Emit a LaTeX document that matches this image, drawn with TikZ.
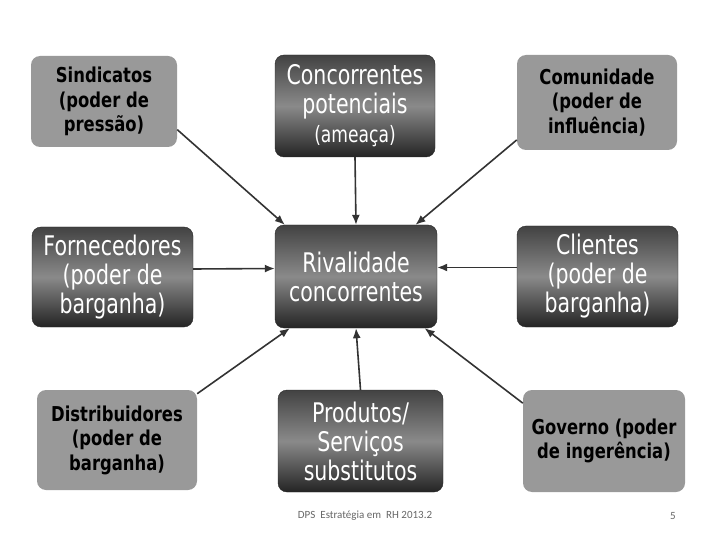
\documentclass[tikz,border=0pt]{standalone}
\usepackage{fontspec}
\setmainfont{DejaVu Sans}
\newfontfamily\boxfont[FakeStretch=0.76]{DejaVu Sans}
\newfontfamily\lightfont[FakeStretch=0.8]{DejaVu Sans Bold}
\newfontfamily\footfont{Carlito}
\usetikzlibrary{arrows.meta}

\begin{document}
\begin{tikzpicture}[
    x=1pt, y=-1pt,
    light/.style={rounded corners=9pt, fill=black!40, text=black, align=center,
        minimum width=160pt, minimum height=100pt, inner sep=0pt,
        font=\lightfont\fontsize{20.5}{24.5}\selectfont},
    dark/.style={rounded corners=9pt, draw=black!85, top color=black!74,
        bottom color=black!86, middle color=black!46, text=white, align=center,
        minimum width=160pt, minimum height=100pt, inner sep=0pt,
        font=\boxfont\fontsize{27}{29}\selectfont},
    force/.style={draw=black!80, line width=1.6pt,
        -{Latex[length=10pt, width=8pt]}},
    foot/.style={text=black!60, font=\footfont\fontsize{11}{13}\selectfont}
]
\useasboundingbox (0,0) rectangle (720,540);

% ---- top row ----
\node[light, minimum width=146pt, minimum height=91pt] (sind) at (104,101.5)
    {Sindicatos\\(poder de\\pressão)};
\node[dark, minimum height=102pt] (conc) at (355,106)
    {Concorrentes\\potenciais\\{\fontsize{22.5}{26}\selectfont(ameaça)}};
\node[light, minimum height=95pt] (comu) at (597,102.5)
    {Comunidade\\(poder de\\influência)};

% ---- middle row ----
\node[dark, minimum width=161pt] (forn) at (112.5,277)
    {Fornecedores\\(poder de\\barganha)};
\node[dark, minimum width=162pt, minimum height=103pt] (riva) at (356,276.5)
    {Rivalidade\\concorrentes};
\node[dark, minimum width=161pt, minimum height=101pt] (clie) at (597.5,276.5)
    {Clientes\\(poder de\\barganha)};

% ---- bottom row ----
\node[light] (dist) at (117,440)
    {Distribuidores\\(poder de\\barganha)};
\node[dark, minimum width=165pt, minimum height=102pt] (prod) at (360.5,441)
    {Produtos/\\Serviços\\substitutos};
\node[light, minimum width=162pt, minimum height=102pt] (gove) at (604,441)
    {Governo (poder\\de ingerência)};

% ---- forces ----
\draw[force] (sind.-21) -- (riva.144);
\draw[force] (conc.south) -- (riva.north);
\draw[force] (comu.205) -- (riva.41);
\draw[force] ([yshift=8pt]forn.east) -- ([yshift=8pt]riva.west);
\draw[force] ([yshift=9pt]clie.west) -- ([yshift=9pt]riva.east);
\draw[force] (dist.30) -- (riva.218);
\draw[force] (prod.north) -- (riva.south);
\draw[force] (gove.155) -- (riva.-37);

% ---- footer ----
\node[foot] (rodape) at (365,516) {DPS\ \ Estratégia em\ \ RH 2013.2};
\node[foot] (pagina) at (673,516) {5};

\end{tikzpicture}
\end{document}
